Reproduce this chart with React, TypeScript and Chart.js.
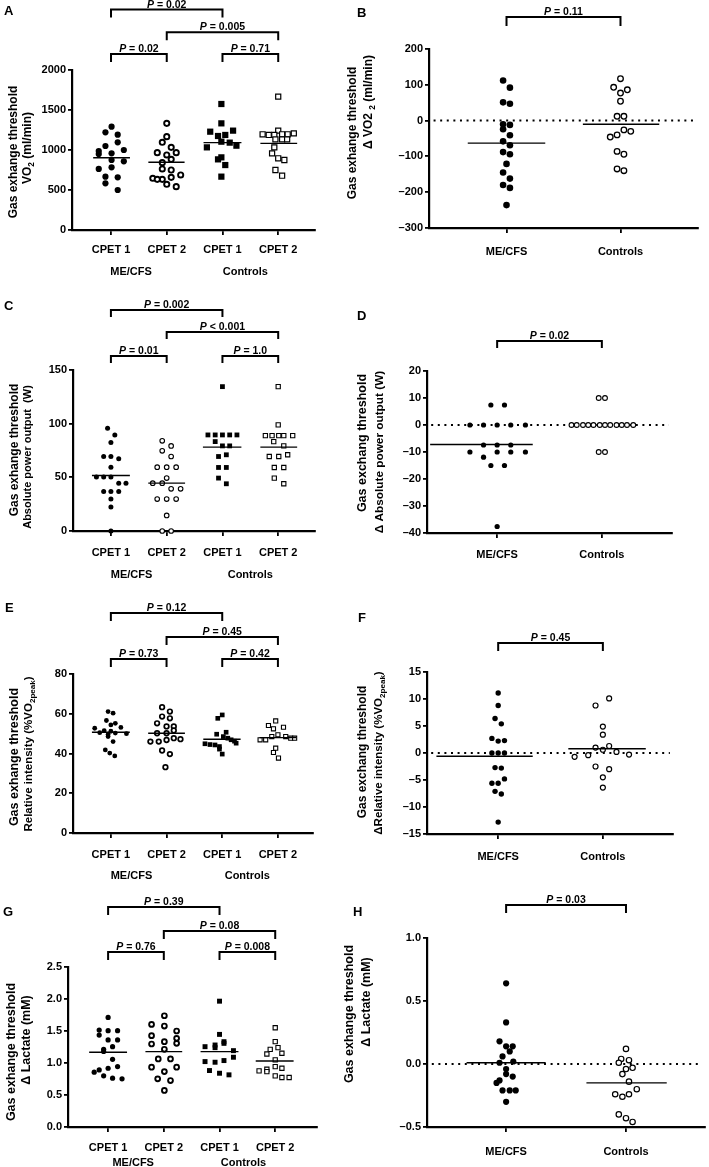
import React, { useEffect, useRef } from "react";
import { Chart, registerables } from "chart.js";
Chart.register(...registerables);

const FF = "'Liberation Sans', Arial, Helvetica, sans-serif";

// ---------- shared labels ----------
const CPET_LABELS = ["CPET 1", "CPET 2", "CPET 1", "CPET 2"];
const GROUP_LABELS = ["ME/CFS", "Controls"];
const DELTA_LABELS = ["ME/CFS", "Controls"];

// ---------- Panel A : VO2 at GET (ml/min) ----------
const A_TICKS = [0, 500, 1000, 1500, 2000];
const A_ME1 = [1292, 1221, 1192, 1096, 1050, 987, 950, 958, 1000, 858, 875, 763, 783, 667, 658, 583, 500];
const A_ME1_J = [0.01, -0.1, 0.12, 0.12, -0.1, -0.22, -0.22, 0.01, 0.23, 0.23, 0.01, -0.22, 0.01, -0.1, 0.12, -0.1, 0.12];
const A_ME2 = [1333, 1167, 1096, 1033, 967, 938, 967, 883, 842, 763, 750, 658, 633, 646, 633, 688, 571, 542];
const A_ME2_J = [0, 0, -0.08, 0.08, -0.17, 0, 0.17, 0.08, -0.08, -0.08, 0.08, 0.08, -0.08, -0.25, -0.17, 0.25, 0, 0.17];
const A_C1 = [1575, 1333, 1229, 1242, 1175, 1188, 1104, 1092, 1033, 1054, 883, 908, 812, 667];
const A_C1_J = [-0.02, -0.02, -0.22, 0.19, -0.08, 0.05, -0.02, 0.13, -0.28, 0.25, -0.08, -0.02, 0.05, -0.02];
const A_C2 = [1667, 1242, 1196, 1188, 1188, 1196, 1196, 1208, 1133, 1133, 1133, 1033, 958, 896, 875, 750, 679];
const A_C2_J = [0, 0, -0.28, -0.17, -0.07, 0.07, 0.17, 0.28, -0.05, 0.07, 0.16, -0.07, -0.11, 0, 0.11, -0.05, 0.07];
const A_MED = [904, 846, 1092, 1083];
const A_P = ["P = 0.02", "P = 0.005", "P = 0.02", "P = 0.71"];

// ---------- Panel B : delta VO2 ----------
const B_TICKS = [-300, -200, -100, 0, 100, 200];
const B_ME = [112, 92, 51, 47, -10, -12, -24, -41, -58, -69, -88, -94, -121, -145, -162, -180, -188, -236];
const B_ME_J = [-0.03, 0.03, -0.03, 0.03, -0.03, 0.03, -0.03, 0.03, -0.03, 0.03, -0.03, 0.03, 0, -0.03, 0.03, -0.03, 0.03, 0];
const B_CT = [117, 93, 77, 86, 54, 12, 12, -26, -30, -40, -46, -86, -94, -135, -140];
const B_CT_J = [0, -0.06, 0, 0.06, 0, -0.03, 0.03, 0.03, 0.09, -0.03, -0.09, -0.03, 0.03, -0.03, 0.03];
const B_MED = [-63, -10];
const B_P = ["P = 0.11"];

// ---------- Panel C : absolute power output (W) ----------
const C_TICKS = [0, 50, 100, 150];
const C_ME1 = [95.7, 89.5, 82.4, 69.4, 69.4, 67.2, 59.5, 50.2, 50.2, 50.2, 44.6, 44.6, 36.9, 36.9, 36.9, 29.7, 22.3, 0];
const C_ME1_J = [-0.06, 0.07, 0, -0.13, 0, 0.14, 0, -0.26, -0.13, 0, 0.14, 0.27, -0.13, 0, 0.14, 0, 0, 0];
const C_ME2 = [84, 79.3, 74.7, 69.4, 59.5, 59.5, 59.5, 49.3, 44.6, 44.6, 39.3, 39.3, 29.7, 29.7, 29.7, 14.5, 0, 0];
const C_ME2_J = [-0.08, 0.08, -0.08, 0.08, -0.17, 0, 0.17, 0, -0.25, -0.08, 0.08, 0.25, -0.17, 0, 0.17, 0, -0.08, 0.08];
const C_C1 = [134.5, 89.5, 89.5, 89.5, 89.5, 89.5, 83.3, 79.3, 79.3, 69.4, 71, 59.2, 59.2, 49.3, 44];
const C_C1_J = [0, -0.26, -0.13, 0, 0.13, 0.26, -0.13, 0, 0.13, -0.07, 0.07, -0.07, 0.07, -0.07, 0.07];
const C_C2 = [134.5, 98.9, 88.9, 88.9, 88.9, 88.9, 88.9, 83.3, 79.3, 69.4, 69.4, 71, 59.2, 59.2, 49.3, 44];
const C_C2_J = [0, 0, -0.23, -0.11, 0.01, 0.1, 0.26, -0.08, 0.1, -0.16, 0.01, 0.17, -0.07, 0.1, -0.07, 0.1];
const C_MED = [51.7, 44.6, 78.1, 78.1];
const C_P = ["P = 0.002", "P < 0.001", "P = 0.01", "P = 1.0"];

// ---------- Panel D : delta absolute power output ----------
const D_TICKS = [-40, -30, -20, -10, 0, 10, 20];
const D_ME = [7.4, 7.4, 0, 0, 0, 0, 0, -7.4, -7.4, -7.4, -10, -10, -10, -10, -11.9, -15, -15, -37.6];
const D_ME_J = [-0.06, 0.07, -0.26, -0.13, 0, 0.13, 0.27, -0.13, 0, 0.13, -0.26, 0, 0.13, 0.27, -0.13, -0.06, 0.07, 0];
const D_CT = [10, 10, 0, 0, 0, 0, 0, 0, 0, 0, 0, 0, 0, 0, -10, -10];
const D_CT_J = [-0.03, 0.03, -0.29, -0.24, -0.18, -0.13, -0.08, -0.02, 0.03, 0.08, 0.14, 0.19, 0.24, 0.3, -0.03, 0.03];
const D_MED = [-7.2, null];
const D_P = ["P = 0.02"];

// ---------- Panel E : relative intensity (%VO2peak) ----------
const E_TICKS = [0, 20, 40, 60, 80];
const E_ME1 = [61.1, 60.3, 56.6, 55.2, 54.4, 52.7, 53.1, 51.5, 51.2, 50.5, 50.3, 50.0, 49.5, 48.5, 46, 41.8, 40.2, 38.8];
const E_ME1_J = [-0.05, 0.04, -0.08, 0.08, 0, -0.29, 0.18, -0.12, 0, -0.2, 0.08, 0.28, -0.05, -0.05, 0.04, -0.1, -0.02, 0.07];
const E_ME2 = [63.3, 61.1, 58.6, 57.7, 55.2, 53.6, 53.6, 51.6, 50.2, 50.2, 47.7, 47.2, 46.8, 46, 46, 41.5, 39.7, 33.1];
const E_ME2_J = [-0.08, 0.06, -0.08, 0.06, -0.17, 0, 0.13, 0.13, -0.17, 0, 0.13, 0.25, 0, -0.29, -0.14, -0.08, 0.06, -0.02];
const E_C1 = [59.4, 57.7, 50.7, 49.7, 48.5, 47.7, 46.9, 46.2, 45.2, 44.9, 44.5, 44.3, 43.5, 42.2, 39.7];
const E_C1_J = [0, -0.08, 0.07, -0.1, 0.02, 0.1, 0.16, 0.22, 0.25, -0.31, -0.22, -0.13, -0.05, -0.05, 0];
const E_C2 = [56.4, 54.1, 53.2, 52.4, 49.4, 48.5, 48.5, 47.7, 47.7, 46.9, 46.9, 42.7, 40.5, 37.7];
const E_C2_J = [-0.04, -0.17, 0.1, -0.08, 0, -0.11, 0.14, 0.23, 0.3, -0.32, -0.22, -0.04, -0.08, 0.01];
const E_MED = [50.7, 50.2, 47.2, 48];
const E_P = ["P = 0.12", "P = 0.45", "P = 0.73", "P = 0.42"];

// ---------- Panel F : delta relative intensity ----------
const F_TICKS = [-15, -10, -5, 0, 5, 10, 15];
const F_ME = [11.1, 8.8, 6.4, 5.4, 2.7, 2.2, 2.3, 0, 0, 0, -2.7, -2.8, -4.8, -5.6, -5.6, -7.1, -7.6, -12.8];
const F_ME_J = [0, 0, -0.03, 0.03, -0.06, 0, 0.06, -0.06, 0, 0.06, -0.03, 0.03, 0.06, -0.06, 0, -0.03, 0.03, 0];
const F_CT = [10.1, 8.8, 4.9, 3.4, 1.0, 1.3, 0.6, 0.2, -0.7, -0.4, -0.3, -2.5, -3, -4.5, -6.4];
const F_CT_J = [0.06, -0.07, 0, 0, -0.07, 0.06, 0, 0.13, -0.27, -0.14, 0.25, -0.07, 0.06, 0, 0];
const F_MED = [-0.6, 0.8];
const F_P = ["P = 0.45"];

// ---------- Panel G : delta lactate (mM) ----------
const G_TICKS = [0, 0.5, 1, 1.5, 2, 2.5];
const G_ME1 = [1.712, 1.515, 1.505, 1.505, 1.437, 1.36, 1.36, 1.255, 1.214, 1.18, 1.058, 0.944, 0.918, 0.892, 0.856, 0.799, 0.763, 0.752];
const G_ME1_J = [0, -0.16, 0, 0.17, -0.16, 0, 0.17, 0.08, -0.08, -0.08, 0.08, 0.17, 0, -0.16, -0.25, -0.08, 0.08, 0.25];
const G_ME2 = [1.738, 1.603, 1.577, 1.5, 1.427, 1.333, 1.385, 1.307, 1.297, 1.214, 1.063, 1.063, 0.934, 0.934, 0.866, 0.752, 0.726, 0.571];
const G_ME2_J = [0.01, -0.22, 0.01, 0.23, -0.22, 0.01, 0.23, 0.23, -0.22, 0.01, -0.1, 0.12, -0.22, 0.23, 0.01, -0.11, 0.12, 0.01];
const G_C1 = [1.966, 1.447, 1.333, 1.307, 1.281, 1.255, 1.24, 1.193, 1.09, 1.038, 1.022, 1.012, 0.882, 0.84, 0.815];
const G_C1_J = [0, 0, 0.08, 0.08, -0.08, -0.26, -0.08, 0.25, 0.25, 0.08, -0.26, -0.08, -0.18, 0, 0.17];
const G_C2 = [1.551, 1.333, 1.24, 1.214, 1.152, 1.141, 1.048, 0.944, 0.918, 0.903, 0.877, 0.866, 0.799, 0.773, 0.773];
const G_C2_J = [0, 0, 0.05, -0.09, 0.12, -0.15, 0, 0, 0.12, -0.15, -0.29, -0.15, 0, 0.12, 0.25];
const G_MED = [1.167, 1.178, 1.178, 1.032];
const G_P = ["P = 0.39", "P = 0.08", "P = 0.76", "P = 0.008"];

// ---------- Panel H : delta lactate change ----------
const H_TICKS = [-0.5, 0, 0.5, 1];
const H_ME = [0.64, 0.33, 0.18, 0.14, 0.14, 0.1, 0.06, 0.01, 0.02, -0.04, -0.08, -0.1, -0.13, -0.15, -0.21, -0.21, -0.21, -0.3];
const H_ME_J = [0, 0, -0.055, 0, 0.055, 0.03, -0.03, -0.055, 0.06, 0, 0, 0.055, -0.055, -0.08, -0.03, 0.03, 0.08, 0];
const H_CT = [0.12, 0.04, 0.03, 0.01, -0.03, -0.04, -0.08, -0.14, -0.2, -0.24, -0.26, -0.24, -0.4, -0.43, -0.46];
const H_CT_J = [0, -0.04, 0.025, -0.06, 0.055, 0, -0.03, 0.025, 0.09, -0.09, -0.03, 0.025, -0.06, 0, 0.055];
const H_MED = [0.01, -0.15];
const H_P = ["P = 0.03"];

// ---------- helpers ----------
const fmt = (dec: number) => (v: number) => (v < 0 ? "\u2013" : "") + Math.abs(v).toFixed(dec);
const S = (t: string, sub = false) => ({ t, sub });

type Ser = { ys: number[]; js: number[]; kind: string; r: number; bw?: number };

function fourBrackets(levels: number[], t: number, P: string[]) {
  return [
    { a: 0, b: 2, y: levels[0], t, label: P[0] },
    { a: 1, b: 3, y: levels[1], t, label: P[1] },
    { a: 0, b: 1, y: levels[2], t, label: P[2] },
    { a: 2, b: 3, y: levels[2], t, label: P[3] },
  ];
}

const PANELS: any[] = [
  {
    id: "A", left: 0, top: 0, w: 340, h: 290,
    axL: 72, axR: 315, axT: 70, axB: 230,
    xMin: -0.7, xMax: 3.66, yMin: 0, yMax: 2000, yTicks: A_TICKS, yFmt: fmt(0),
    xLabels: CPET_LABELS, xPad: 8.4,
    series: [
      { ys: A_ME1, js: A_ME1_J, kind: "dot", r: 3.1 },
      { ys: A_ME2, js: A_ME2_J, kind: "ring", r: 2.6, bw: 1.9 },
      { ys: A_C1, js: A_C1_J, kind: "sq", r: 4.4 },
      { ys: A_C2, js: A_C2_J, kind: "sqo", r: 3.6, bw: 1.2 },
    ],
    med: A_MED, medL: [0.32, 0.33, 0.34, 0.32], medR: [0.34, 0.32, 0.34, 0.34],
    zero: false,
    brackets: fourBrackets([9.5, 32.3, 54], 8, A_P),
    letter: { t: "A", x: 4, y: 15 },
    titles: [
      { segs: [S("Gas exhange threshold")], x: 14, y: 152, size: 12 },
      { segs: [S("VO"), S("2", true), S(" (ml/min)")], x: 28, y: 148, size: 12 },
    ],
    groups: [{ t: GROUP_LABELS[0], u: 0.36, y: 272 }, { t: GROUP_LABELS[1], u: 2.41, y: 272 }],
  },
  {
    id: "B", left: 340, top: 0, w: 369, h: 290,
    axL: 429, axR: 698, axT: 49, axB: 228,
    xMin: -0.68, xMax: 1.68, yMin: -300, yMax: 200, yTicks: B_TICKS, yFmt: fmt(0),
    xLabels: DELTA_LABELS, xPad: 12.4,
    series: [
      { ys: B_ME, js: B_ME_J, kind: "dot", r: 3.3 },
      { ys: B_CT, js: B_CT_J, kind: "ring", r: 2.8, bw: 1.3 },
    ],
    med: B_MED, medL: [0.34, 0.33], medR: [0.34, 0.34],
    zero: true,
    brackets: [{ a: 0, b: 1, y: 17, t: 9, label: B_P[0] }],
    letter: { t: "B", x: 357, y: 17 },
    titles: [
      { segs: [S("Gas exhange threshold")], x: 353, y: 133, size: 12 },
      { segs: [S("\u0394 VO2 "), S("2", true), S(" (ml/min)")], x: 369, y: 102, size: 12 },
    ],
    groups: [],
  },
  {
    id: "C", left: 0, top: 290, w: 340, h: 295,
    axL: 73, axR: 315, axT: 370, axB: 531,
    xMin: -0.68, xMax: 3.66, yMin: 0, yMax: 150, yTicks: C_TICKS, yFmt: fmt(0),
    xLabels: CPET_LABELS, xPad: 10.4,
    series: [
      { ys: C_ME1, js: C_ME1_J, kind: "dot", r: 2.5 },
      { ys: C_ME2, js: C_ME2_J, kind: "ring", r: 2.3, bw: 1.1 },
      { ys: C_C1, js: C_C1_J, kind: "sq", r: 3.4 },
      { ys: C_C2, js: C_C2_J, kind: "sqo", r: 3.0, bw: 1.1 },
    ],
    med: C_MED, medL: [0.34, 0.33, 0.35, 0.32], medR: [0.34, 0.33, 0.34, 0.34],
    zero: false,
    brackets: fourBrackets([310, 332, 356], 7, C_P),
    letter: { t: "C", x: 4, y: 310 },
    titles: [
      { segs: [S("Gas exhange threshold")], x: 15, y: 450, size: 12 },
      { segs: [S("Absolute power output  (W)")], x: 28, y: 457, size: 11 },
    ],
    groups: [{ t: GROUP_LABELS[0], u: 0.37, y: 575 }, { t: GROUP_LABELS[1], u: 2.5, y: 575 }],
  },
  {
    id: "D", left: 340, top: 290, w: 369, h: 295,
    axL: 427, axR: 672, axT: 371, axB: 533,
    xMin: -0.67, xMax: 1.67, yMin: -40, yMax: 20, yTicks: D_TICKS, yFmt: fmt(0),
    xLabels: DELTA_LABELS, xPad: 10.4,
    series: [
      { ys: D_ME, js: D_ME_J, kind: "dot", r: 2.6 },
      { ys: D_CT, js: D_CT_J, kind: "ring", r: 2.4, bw: 1.1 },
    ],
    med: D_MED, medL: [0.64, 0.33], medR: [0.34, 0.33],
    zero: true,
    brackets: [{ a: 0, b: 1, y: 341, t: 7, label: D_P[0] }],
    letter: { t: "D", x: 357, y: 320 },
    titles: [
      { segs: [S("Gas exchang threshold")], x: 363, y: 443, size: 12.5 },
      { segs: [S("\u0394 Absolute power output (W)")], x: 380, y: 452, size: 11.8 },
    ],
    groups: [],
  },
  {
    id: "E", left: 0, top: 585, w: 340, h: 300,
    axL: 73, axR: 313, axT: 674, axB: 833,
    xMin: -0.68, xMax: 3.63, yMin: 0, yMax: 80, yTicks: E_TICKS, yFmt: fmt(0),
    xLabels: CPET_LABELS, xPad: 10.4,
    series: [
      { ys: E_ME1, js: E_ME1_J, kind: "dot", r: 2.4 },
      { ys: E_ME2, js: E_ME2_J, kind: "ring", r: 2.3, bw: 1.7 },
      { ys: E_C1, js: E_C1_J, kind: "sq", r: 3.3 },
      { ys: E_C2, js: E_C2_J, kind: "sqo", r: 2.9, bw: 1.1 },
    ],
    med: E_MED, medL: [0.34, 0.33, 0.34, 0.33], medR: [0.34, 0.33, 0.33, 0.33],
    zero: false,
    brackets: fourBrackets([613, 637, 659], 8, E_P),
    letter: { t: "E", x: 5, y: 612 },
    titles: [
      { segs: [S("Gas exhange threshold")], x: 15, y: 757, size: 12.5 },
      { segs: [S("Relative intensity (%VO"), S("2peak", true), S(")")], x: 29, y: 754, size: 11.5 },
    ],
    groups: [{ t: GROUP_LABELS[0], u: 0.37, y: 876 }, { t: GROUP_LABELS[1], u: 2.45, y: 876 }],
  },
  {
    id: "F", left: 340, top: 585, w: 369, h: 285,
    axL: 427, axR: 673, axT: 672, axB: 834,
    xMin: -0.68, xMax: 1.67, yMin: -15, yMax: 15, yTicks: F_TICKS, yFmt: fmt(0),
    xLabels: DELTA_LABELS, xPad: 11.4,
    series: [
      { ys: F_ME, js: F_ME_J, kind: "dot", r: 2.7 },
      { ys: F_CT, js: F_CT_J, kind: "ring", r: 2.5, bw: 1.2 },
    ],
    med: F_MED, medL: [0.59, 0.33], medR: [0.33, 0.41],
    zero: true,
    brackets: [{ a: 0, b: 1, y: 643, t: 8, label: F_P[0] }],
    letter: { t: "F", x: 358, y: 622 },
    titles: [
      { segs: [S("Gas exchang threshold")], x: 363, y: 752, size: 12 },
      { segs: [S("\u0394Relative intensity (%VO"), S("2peak", true), S(")")], x: 379, y: 753, size: 11.5 },
    ],
    groups: [],
  },
  {
    id: "G", left: 0, top: 870, w: 340, h: 297,
    axL: 68, axR: 317, axT: 967, axB: 1127,
    xMin: -0.72, xMax: 3.75, yMin: 0, yMax: 2.5, yTicks: G_TICKS, yFmt: fmt(1),
    xLabels: CPET_LABELS, xPad: 9.4,
    series: [
      { ys: G_ME1, js: G_ME1_J, kind: "dot", r: 2.6 },
      { ys: G_ME2, js: G_ME2_J, kind: "ring", r: 2.4, bw: 1.9 },
      { ys: G_C1, js: G_C1_J, kind: "sq", r: 3.5 },
      { ys: G_C2, js: G_C2_J, kind: "sqo", r: 3.0, bw: 1.1 },
    ],
    med: G_MED, medL: [0.34, 0.33, 0.34, 0.35], medR: [0.34, 0.33, 0.34, 0.33],
    zero: false,
    brackets: fourBrackets([907, 931, 952], 8, G_P),
    letter: { t: "G", x: 3, y: 916 },
    titles: [
      { segs: [S("Gas exhange threshold")], x: 12, y: 1052, size: 12.5 },
      { segs: [S("\u0394 Lactate (mM)")], x: 27, y: 1040, size: 12.5 },
    ],
    groups: [{ t: GROUP_LABELS[0], u: 0.45, y: 1163 }, { t: GROUP_LABELS[1], u: 2.43, y: 1163 }],
  },
  {
    id: "H", left: 340, top: 870, w: 369, h: 297,
    axL: 427, axR: 708, axT: 938, axB: 1127,
    xMin: -0.66, xMax: 1.66, yMin: -0.5, yMax: 1, yTicks: H_TICKS, yFmt: fmt(1),
    xLabels: DELTA_LABELS, xPad: 13.4,
    series: [
      { ys: H_ME, js: H_ME_J, kind: "dot", r: 3.1 },
      { ys: H_CT, js: H_CT_J, kind: "ring", r: 2.7, bw: 1.2 },
    ],
    med: H_MED, medL: [0.33, 0.33], medR: [0.33, 0.34],
    zero: true,
    brackets: [{ a: 0, b: 1, y: 905, t: 8, label: H_P[0] }],
    letter: { t: "H", x: 353, y: 916 },
    titles: [
      { segs: [S("Gas exhange threshold")], x: 350, y: 1014, size: 12.5 },
      { segs: [S("\u0394 Lactate (mM)")], x: 367, y: 1002, size: 12.5 },
    ],
    groups: [],
  },
];

function drawRotated(ctx: any, segs: any[], cx: number, cy: number, size: number) {
  ctx.save();
  ctx.translate(cx, cy);
  ctx.rotate(-Math.PI / 2);
  const f = (sub: boolean) => `bold ${sub ? size * 0.7 : size}px ${FF}`;
  let total = 0;
  for (const s of segs) { ctx.font = f(s.sub); total += ctx.measureText(s.t).width; }
  let x = -total / 2;
  ctx.textAlign = "left";
  ctx.textBaseline = "middle";
  for (const s of segs) {
    ctx.font = f(s.sub);
    ctx.fillText(s.t, x, s.sub ? size * 0.32 : 0);
    x += ctx.measureText(s.t).width;
  }
  ctx.restore();
}

function drawP(ctx: any, label: string, cx: number, baseY: number) {
  const size = 10.5;
  const first = label.slice(0, 1);
  const rest = label.slice(1);
  ctx.font = `italic bold ${size}px ${FF}`;
  const w1 = ctx.measureText(first).width;
  ctx.font = `bold ${size}px ${FF}`;
  const w2 = ctx.measureText(rest).width;
  const x = cx - (w1 + w2) / 2;
  ctx.textAlign = "left";
  ctx.textBaseline = "alphabetic";
  ctx.font = `italic bold ${size}px ${FF}`;
  ctx.fillText(first, x, baseY);
  ctx.font = `bold ${size}px ${FF}`;
  ctx.fillText(rest, x + w1, baseY);
}

function overlayPlugin(p: any) {
  return {
    id: "overlay" + p.id,
    afterDraw(chart: any) {
      const ctx = chart.ctx;
      const xs = chart.scales.x;
      const ox = p.left, oy = p.top;
      ctx.save();
      ctx.fillStyle = "#000";
      ctx.strokeStyle = "#000";
      // panel letter
      ctx.font = `bold 13px ${FF}`;
      ctx.textAlign = "left";
      ctx.textBaseline = "alphabetic";
      ctx.fillText(p.letter.t, p.letter.x - ox, p.letter.y - oy);
      // y titles
      for (const t of p.titles) drawRotated(ctx, t.segs, t.x - ox, t.y - oy, t.size);
      // group labels
      ctx.font = `bold 11px ${FF}`;
      ctx.textAlign = "center";
      ctx.textBaseline = "middle";
      for (const g of p.groups) ctx.fillText(g.t, xs.getPixelForValue(g.u), g.y - oy);
      // significance brackets
      ctx.lineWidth = 2;
      ctx.lineCap = "butt";
      ctx.lineJoin = "miter";
      for (const b of p.brackets) {
        const x1 = xs.getPixelForValue(b.a);
        const x2 = xs.getPixelForValue(b.b);
        const y = b.y - oy;
        ctx.beginPath();
        ctx.moveTo(x1, y + b.t);
        ctx.lineTo(x1, y);
        ctx.lineTo(x2, y);
        ctx.lineTo(x2, y + b.t);
        ctx.stroke();
        drawP(ctx, b.label, (x1 + x2) / 2, y - 2);
      }
      ctx.restore();
    },
  };
}

function buildConfig(p: any) {
  const datasets: any[] = [];
  p.series.forEach((s: Ser, cat: number) => {
    const filled = s.kind === "dot" || s.kind === "sq";
    datasets.push({
      data: s.ys.map((y, i) => ({ x: cat + s.js[i], y })),
      showLine: false,
      pointStyle: s.kind === "sq" || s.kind === "sqo" ? "rect" : "circle",
      pointRadius: s.r,
      pointHoverRadius: s.r,
      pointBackgroundColor: filled ? "#000" : "#fff",
      pointBorderColor: "#000",
      pointBorderWidth: filled ? 0 : s.bw,
      clip: false,
      order: 1,
    });
  });
  p.med.forEach((m: number | null, i: number) => {
    if (m === null) return;
    datasets.push({
      data: [{ x: i - p.medL[i], y: m }, { x: i + p.medR[i], y: m }],
      showLine: true,
      borderColor: "#000",
      borderWidth: 1.4,
      pointRadius: 0,
      pointHoverRadius: 0,
      clip: false,
      order: 0,
    });
  });
  if (p.zero) {
    datasets.push({
      data: [{ x: p.xMin + 0.04, y: 0 }, { x: p.xMax - 0.03, y: 0 }],
      showLine: true,
      borderColor: "#000",
      borderWidth: 2,
      borderDash: [2, 4.6],
      borderCapStyle: "butt",
      pointRadius: 0,
      pointHoverRadius: 0,
      clip: false,
      order: 2,
    });
  }
  const tickFont = { family: FF, size: 11, weight: "bold" as const };
  return {
    type: "scatter" as const,
    data: { datasets },
    options: {
      animation: false,
      responsive: false,
      maintainAspectRatio: false,
      events: [],
      layout: { padding: { left: 0, right: p.w - (p.axR - p.left), top: p.axT - p.top, bottom: 0 } },
      plugins: { legend: { display: false }, tooltip: { enabled: false }, title: { display: false } },
      scales: {
        x: {
          type: "linear",
          min: p.xMin,
          max: p.xMax,
          afterFit: (s: any) => { s.height = p.top + p.h - p.axB; },
          afterBuildTicks: (s: any) => { s.ticks = p.xLabels.map((_: string, i: number) => ({ value: i })); },
          ticks: {
            callback: (_v: any, i: number) => p.xLabels[i],
            font: tickFont,
            color: "#000",
            padding: p.xPad,
            autoSkip: false,
            maxRotation: 0,
            minRotation: 0,
          },
          grid: { display: true, drawOnChartArea: false, drawTicks: true, tickLength: 5, color: "#000", lineWidth: 1.8 },
          border: { display: true, color: "#000", width: 2.2 },
        },
        y: {
          type: "linear",
          min: p.yMin,
          max: p.yMax,
          afterFit: (s: any) => { s.width = p.axL - p.left; },
          afterBuildTicks: (s: any) => { s.ticks = p.yTicks.map((v: number) => ({ value: v })); },
          ticks: {
            callback: (v: number) => p.yFmt(v),
            font: tickFont,
            color: "#000",
            padding: 2,
            autoSkip: false,
          },
          grid: { display: true, drawOnChartArea: false, drawTicks: true, tickLength: 4, color: "#000", lineWidth: 1.8 },
          border: { display: true, color: "#000", width: 2.2 },
        },
      },
    },
    plugins: [overlayPlugin(p)],
  };
}

function Panel({ p }: { p: any }) {
  const ref = useRef<HTMLCanvasElement | null>(null);
  useEffect(() => {
    if (!ref.current) return;
    const chart = new Chart(ref.current, buildConfig(p) as any);
    return () => chart.destroy();
  }, [p]);
  return (
    <canvas
      ref={ref}
      width={p.w}
      height={p.h}
      style={{ position: "absolute", left: p.left, top: p.top, width: p.w, height: p.h }}
    />
  );
}

export default function App() {
  return (
    <div style={{ position: "absolute", left: 0, top: 0, width: 709, height: 1167, background: "#fff", overflow: "hidden" }}>
      {PANELS.map((p) => (
        <Panel key={p.id} p={p} />
      ))}
    </div>
  );
}
